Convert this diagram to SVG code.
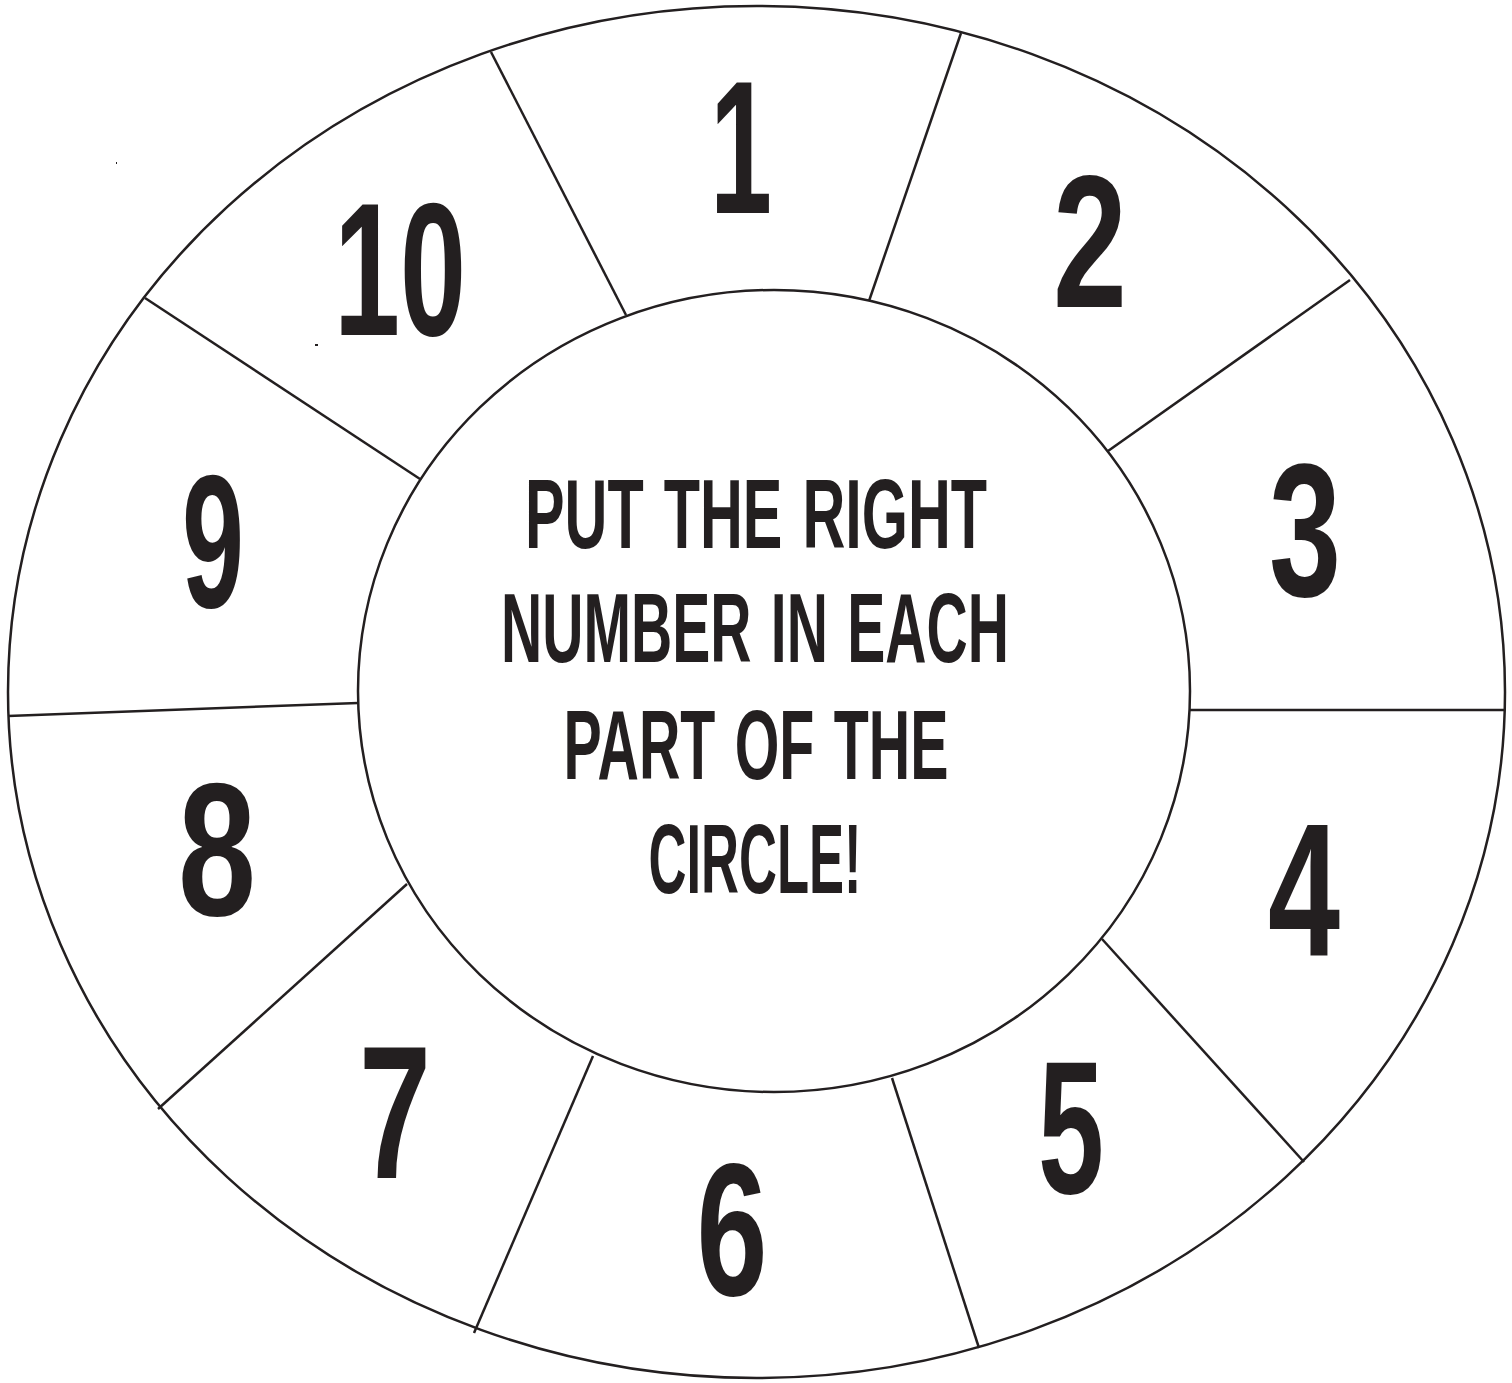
<svg xmlns="http://www.w3.org/2000/svg" width="1512" height="1383" viewBox="0 0 1512 1383">
  <style>
    .ring { fill: none; stroke: #231f20; stroke-width: 2.5; }
    .div { stroke: #231f20; stroke-width: 2.5; fill: none; }
    .num { font-family: "Liberation Sans", Arial, sans-serif; font-weight: bold; font-size: 190px; fill: #231f20; text-anchor: middle; }
    .msg { font-family: "Liberation Sans", Arial, sans-serif; font-weight: bold; font-size: 98px; fill: #231f20; text-anchor: middle; word-spacing: 6px; }
  </style>
  <rect width="1512" height="1383" fill="#ffffff"/>
  <g id="outer-ring"><ellipse class="ring" cx="756.5" cy="692" rx="748.5" ry="686"/></g>
  <g id="connectors">
    <line class="div" x1="491" y1="52" x2="626" y2="315"/>
    <line class="div" x1="961" y1="33" x2="869" y2="301"/>
    <line class="div" x1="1350" y1="280" x2="1108" y2="451"/>
    <line class="div" x1="1190" y1="710" x2="1504" y2="710"/>
    <line class="div" x1="1102" y1="939" x2="1304" y2="1162"/>
    <line class="div" x1="892" y1="1078" x2="979" y2="1348"/>
    <line class="div" x1="593" y1="1056" x2="474" y2="1333"/>
    <line class="div" x1="407" y1="884" x2="158" y2="1109"/>
    <line class="div" x1="358" y1="703" x2="8" y2="716"/>
    <line class="div" x1="420" y1="479" x2="145" y2="298"/>
  </g>
  <g id="center">
    <ellipse class="ring" cx="774" cy="691" rx="416" ry="401" fill="#ffffff"/>
    <text class="msg" x="756" y="548" textLength="462" lengthAdjust="spacingAndGlyphs">PUT THE RIGHT</text>
    <text class="msg" x="755" y="662" textLength="508" lengthAdjust="spacingAndGlyphs">NUMBER IN EACH</text>
    <text class="msg" x="756" y="779" textLength="385" lengthAdjust="spacingAndGlyphs">PART OF THE</text>
    <text class="msg" x="755" y="893" textLength="213" lengthAdjust="spacingAndGlyphs">CIRCLE!</text>
  </g>
  <g id="seg1"><text class="num" x="741" y="213" textLength="62" lengthAdjust="spacingAndGlyphs">1</text></g>
  <g id="seg2"><text class="num" x="1090" y="307" textLength="74" lengthAdjust="spacingAndGlyphs">2</text></g>
  <g id="seg3"><text class="num" x="1305" y="596" textLength="72" lengthAdjust="spacingAndGlyphs">3</text></g>
  <g id="seg4"><text class="num" x="1304" y="956" textLength="72" lengthAdjust="spacingAndGlyphs">4</text></g>
  <g id="seg5"><text class="num" x="1071" y="1193" textLength="66" lengthAdjust="spacingAndGlyphs">5</text></g>
  <g id="seg6"><text class="num" x="732" y="1295" textLength="71" lengthAdjust="spacingAndGlyphs">6</text></g>
  <g id="seg7"><text class="num" x="395" y="1178" textLength="72" lengthAdjust="spacingAndGlyphs">7</text></g>
  <g id="seg8"><text class="num" x="217" y="915" textLength="78" lengthAdjust="spacingAndGlyphs">8</text></g>
  <g id="seg9"><text class="num" x="213" y="607" textLength="62" lengthAdjust="spacingAndGlyphs">9</text></g>
  <g id="seg10"><text class="num" x="400" y="335" textLength="132" lengthAdjust="spacingAndGlyphs">10</text></g>
  <g id="specks" fill="#231f20">
    <rect x="116" y="162" width="1" height="2"/>
    <rect x="315" y="344" width="3" height="2"/>
  </g>
</svg>
